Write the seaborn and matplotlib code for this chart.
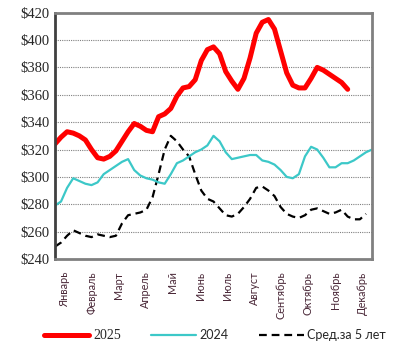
import numpy as np
import pandas as pd
import matplotlib
matplotlib.use("Agg")
import matplotlib.pyplot as plt
import seaborn as sns

# weekly prices
prices_2025 = [324, 329, 333, 332, 330, 327, 320, 314, 313, 315,
               319, 326, 333, 339, 337, 334, 333, 344, 346, 350,
               359, 365, 366, 371, 385, 393, 395, 390, 377, 370,
               364, 372, 387, 405, 413, 415, 408, 392, 376, 367,
               365, 365, 372, 380, 378, 375, 372, 369, 364]
prices_2024 = [279, 282, 292, 299, 297, 295, 294, 296, 302, 305,
               308, 311, 313, 305, 301, 299, 298, 296, 295, 302,
               310, 312, 315, 318, 320, 323, 330, 326, 318, 313,
               314, 315, 316, 316, 312, 311, 309, 305, 300, 299,
               302, 315, 322, 320, 314, 307, 307, 310, 310, 312,
               315, 318, 320]
prices_avg5 = [249, 252, 257, 261, 259, 257, 256, 258, 257, 256,
               257, 266, 272, 273, 274, 276, 285, 302, 320, 330,
               326, 320, 315, 302, 290, 284, 282, 277, 272, 271,
               273, 278, 284, 292, 293, 290, 286, 278, 273, 271,
               270, 272, 276, 277, 275, 273, 274, 276, 271, 269,
               269, 273]
months = ["Январь", "Февраль", "Март", "Апрель", "Май", "Июнь", "Июль",
          "Август", "Сентябрь", "Октябрь", "Ноябрь", "Декабрь"]
y_ticks = [240, 260, 280, 300, 320, 340, 360, 380, 400, 420]


def make_frame(values, name):
    return pd.DataFrame({"week": np.arange(len(values)), "price": values, "series": name})


def main():
    sns.set_style("white")
    fig = plt.figure(figsize=(3.95, 3.57), dpi=100)
    ax = fig.add_axes([0.139, 0.2745, 0.803, 0.69])

    df25 = make_frame(prices_2025, "2025")
    df24 = make_frame(prices_2024, "2024")
    dfav = make_frame(prices_avg5, "Сред.за 5 лет")

    sns.lineplot(data=dfav, x="week", y="price", ax=ax, color="black",
                 linewidth=1.6, linestyle=(0, (3.5, 2.2)), label="Сред.за 5 лет")
    sns.lineplot(data=df24, x="week", y="price", ax=ax, color="#3cc8c8",
                 linewidth=1.6, label="2024")
    sns.lineplot(data=df25, x="week", y="price", ax=ax, color="#ff0000",
                 linewidth=3.6, label="2025", solid_capstyle="round")

    ax.set_xlim(0, 52)
    ax.set_ylim(240, 420)
    ax.set_yticks(y_ticks)
    ax.set_yticklabels([f"${v}" for v in y_ticks], fontfamily="Liberation Serif",
                       fontsize=10.5)
    ax.yaxis.grid(True, linestyle=(0, (1, 1)), color="#808080", linewidth=0.8)
    ax.xaxis.grid(False)

    tick_pos = [1.6 + 4.44 * i for i in range(12)]
    ax.set_xticks(tick_pos)
    ax.set_xticklabels(months, rotation=90, fontfamily="Lato", fontsize=7.8,
                       color="#4a2838")
    ax.tick_params(axis="both", length=0, pad=4)
    ax.tick_params(axis="x", pad=9)
    ax.set_xlabel("")
    ax.set_ylabel("")

    for side in ["top", "right", "bottom"]:
        ax.spines[side].set_color("#808080")
        ax.spines[side].set_linewidth(2)
    ax.spines["left"].set_color("#404040")
    ax.spines["left"].set_linewidth(2)

    # legend at the bottom, order 2025 / 2024 / 5-year avg
    handles, labels = ax.get_legend_handles_labels()
    order = [labels.index("2025"), labels.index("2024"), labels.index("Сред.за 5 лет")]
    ax.get_legend().remove()
    leg = fig.legend([handles[i] for i in order], [labels[i] for i in order],
                     loc="center", bbox_to_anchor=(0.545, 0.06), ncol=3,
                     frameon=False, handlelength=3.6, columnspacing=2.4,
                     handletextpad=0.3, fontsize=9)
    texts = leg.get_texts()
    texts[0].set_fontfamily("Liberation Serif")
    texts[0].set_fontsize(10)
    texts[1].set_fontfamily("Lato")
    texts[2].set_fontfamily("Lato")

    fig.savefig("out.png", dpi=100)
    plt.close(fig)


if __name__ == "__main__":
    main()
